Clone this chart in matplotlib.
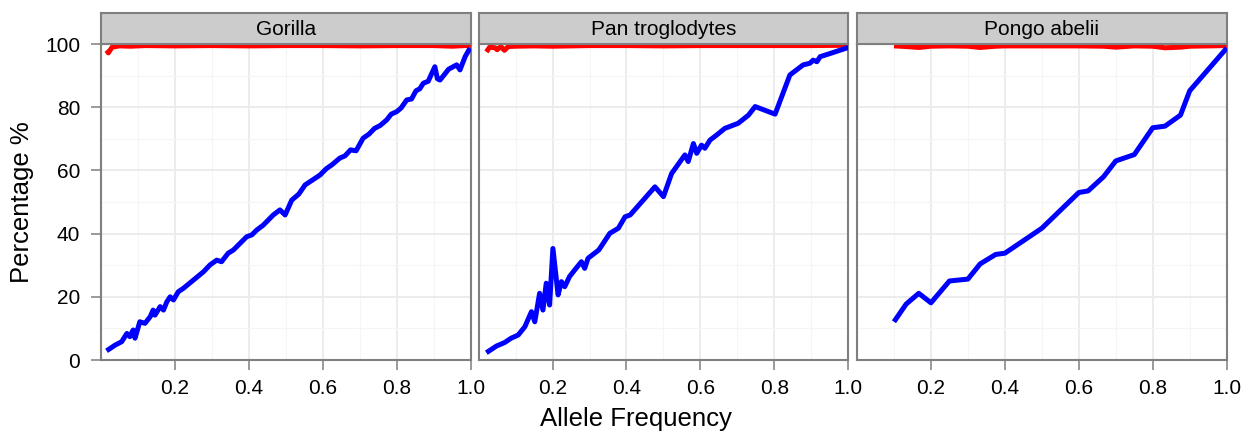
"""
Faceted allele frequency plot: percentage vs allele frequency for three apes
"""

import matplotlib
matplotlib.use('Agg')
import matplotlib.pyplot as plt
from matplotlib.ticker import MultipleLocator

plt.rcParams['font.family'] = ['Liberation Sans', 'DejaVu Sans']

panels = ['Gorilla', 'Pan troglodytes', 'Pongo abelii']
x_ticks = [0.2, 0.4, 0.6, 0.8, 1.0]
y_ticks = [0, 20, 40, 60, 80, 100]

# Gorilla
gorilla_blue_x = [0.015, 0.038, 0.056, 0.07, 0.078, 0.087, 0.092, 0.105, 0.119, 0.133,
                  0.141, 0.146, 0.16, 0.169, 0.178, 0.187, 0.196, 0.209, 0.223, 0.25,
                  0.277, 0.295, 0.313, 0.326, 0.344, 0.358, 0.376, 0.394, 0.408, 0.421,
                  0.439, 0.466, 0.484, 0.498, 0.516, 0.535, 0.552, 0.57, 0.592, 0.61,
                  0.625, 0.646, 0.66, 0.675, 0.69, 0.709, 0.725, 0.74, 0.755, 0.773,
                  0.785, 0.8, 0.812, 0.827, 0.84, 0.852, 0.862, 0.872, 0.885, 0.903,
                  0.91, 0.917, 0.93, 0.94, 0.962, 0.971, 0.985, 0.998]
gorilla_blue_y = [2.9, 4.7, 5.8, 8.4, 7.4, 9.5, 6.9, 12.1, 11.6, 13.7,
                  15.8, 14.2, 16.9, 15.8, 18.4, 20.0, 19.0, 21.6, 22.7, 25.3,
                  27.9, 30.1, 31.6, 31.1, 33.8, 34.8, 36.9, 39.0, 39.6, 41.1,
                  42.7, 45.9, 47.5, 45.9, 50.6, 52.5, 55.4, 56.8, 58.5, 60.6,
                  61.8, 63.9, 64.6, 66.5, 66.2, 70.2, 71.5, 73.3, 74.2, 76.0,
                  77.8, 78.6, 79.8, 82.3, 82.6, 85.2, 85.8, 87.6, 88.2, 92.8,
                  89.0, 88.6, 90.5, 92.0, 93.4, 91.8, 96.0, 98.7]
gorilla_red_x = [0.015, 0.02, 0.03, 0.05, 0.08, 0.12, 0.2, 0.3, 0.4, 0.5,
                 0.6, 0.7, 0.8, 0.9, 0.95, 1.0]
gorilla_red_y = [98.0, 97.2, 99.0, 99.4, 99.3, 99.5, 99.4, 99.5, 99.4, 99.5,
                 99.5, 99.4, 99.5, 99.5, 99.3, 99.6]

# Pan troglodytes
pan_blue_x = [0.021, 0.048, 0.07, 0.088, 0.107, 0.125, 0.143, 0.152, 0.165, 0.174,
              0.183, 0.192, 0.201, 0.215, 0.224, 0.233, 0.246, 0.26, 0.278, 0.287,
              0.296, 0.325, 0.355, 0.378, 0.396, 0.41, 0.477, 0.5, 0.522, 0.558,
              0.567, 0.581, 0.59, 0.603, 0.612, 0.626, 0.644, 0.666, 0.702, 0.73,
              0.748, 0.802, 0.842, 0.878, 0.896, 0.905, 0.915, 0.924, 0.951, 1.0]
pan_blue_y = [2.3, 4.4, 5.5, 6.9, 7.9, 10.5, 15.3, 12.1, 21.1, 15.8,
              24.3, 17.4, 35.3, 20.6, 24.8, 23.2, 26.4, 28.5, 31.1, 29.0,
              32.2, 34.8, 40.1, 41.7, 45.3, 45.9, 54.8, 51.7, 59.0, 64.9,
              62.8, 68.5, 65.4, 68.0, 67.0, 69.6, 71.2, 73.3, 74.9, 77.5,
              80.2, 77.8, 90.2, 93.4, 93.9, 94.9, 94.4, 96.0, 97.0, 98.9]
pan_red_x = [0.021, 0.03, 0.045, 0.05, 0.06, 0.07, 0.08, 0.1, 0.15, 0.2,
             0.3, 0.4, 0.5, 0.6, 0.7, 0.8, 0.9, 1.0]
pan_red_y = [97.5, 99.0, 98.8, 98.2, 99.2, 98.0, 99.2, 99.3, 99.4, 99.3,
             99.5, 99.5, 99.4, 99.5, 99.5, 99.5, 99.5, 99.6]

# Pongo abelii
pongo_blue_x = [0.1, 0.133, 0.167, 0.2, 0.25, 0.3, 0.333, 0.375, 0.4, 0.433,
                0.5, 0.6, 0.625, 0.667, 0.7, 0.75, 0.8, 0.833, 0.875, 0.9, 1.0]
pongo_blue_y = [12.1, 17.7, 21.1, 18.1, 25.0, 25.6, 30.4, 33.4, 33.8, 36.4,
                41.7, 53.0, 53.5, 58.0, 63.0, 65.0, 73.5, 74.0, 77.5, 85.2, 98.7]
pongo_red_x = [0.1, 0.133, 0.167, 0.2, 0.25, 0.3, 0.333, 0.375, 0.4, 0.5,
               0.6, 0.667, 0.7, 0.75, 0.8, 0.833, 0.875, 0.9, 1.0]
pongo_red_y = [99.4, 99.2, 98.9, 99.3, 99.4, 99.3, 98.9, 99.3, 99.4, 99.4,
               99.4, 99.3, 99.0, 99.4, 99.3, 98.8, 99.0, 99.3, 99.5]

series = [
    (gorilla_blue_x, gorilla_blue_y, gorilla_red_x, gorilla_red_y),
    (pan_blue_x, pan_blue_y, pan_red_x, pan_red_y),
    (pongo_blue_x, pongo_blue_y, pongo_red_x, pongo_red_y),
]

W, H = 1244, 432
fig = plt.figure(figsize=(W / 100, H / 100), dpi=100)

frame_col = '#7f7f7f'
lefts = [101, 478.6, 857]
pw = 369.7
top, bottom = 44, 360
strip_top = 13

for i, (name, (bx, by, rx, ry)) in enumerate(zip(panels, series)):
    ax = fig.add_axes([lefts[i] / W, 1 - bottom / H, pw / W, (bottom - top) / H])
    ax.set_xlim(0, 1.0)
    ax.set_ylim(0, 100)
    ax.xaxis.set_minor_locator(MultipleLocator(0.1))
    ax.yaxis.set_minor_locator(MultipleLocator(10))
    ax.set_xticks(x_ticks)
    ax.set_xticklabels(['%.1f' % v for v in x_ticks])
    ax.set_yticks(y_ticks)
    ax.grid(True, which='major', color='#ebebeb', lw=1.3)
    ax.grid(True, which='minor', color='#f5f5f5', lw=0.8)
    ax.set_axisbelow(True)
    ax.plot(rx, ry, color='#ff0000', lw=3.6, solid_capstyle='butt', zorder=3)
    ax.plot(bx, by, color='#0000ff', lw=3.6, solid_capstyle='butt', zorder=4)
    for s in ax.spines.values():
        s.set_color(frame_col)
        s.set_linewidth(1.5)
    ax.tick_params(which='minor', length=0)
    ax.tick_params(which='major', direction='out', length=7, width=1.1,
                   color=frame_col, labelsize=15, labelcolor='black')
    ax.tick_params(axis='x', pad=7)
    ax.tick_params(axis='y', pad=8)
    if i > 0:
        ax.tick_params(axis='y', left=False, labelleft=False)

    sax = fig.add_axes([lefts[i] / W, 1 - top / H, pw / W, (top - strip_top) / H])
    sax.set_facecolor('#cccccc')
    sax.set_xticks([])
    sax.set_yticks([])
    for s in sax.spines.values():
        s.set_color(frame_col)
        s.set_linewidth(1.5)
    sax.text(0.5, 0.47, name, ha='center', va='center', fontsize=15,
             transform=sax.transAxes)

fig.text(636 / W, 1 - 419 / H, 'Allele Frequency', ha='center', va='center', fontsize=18.5)
fig.text(22 / W, 1 - 202 / H, 'Percentage %', ha='center', va='center',
         rotation=90, fontsize=18.5)

plt.savefig('out.png', dpi=100)
plt.close(fig)
